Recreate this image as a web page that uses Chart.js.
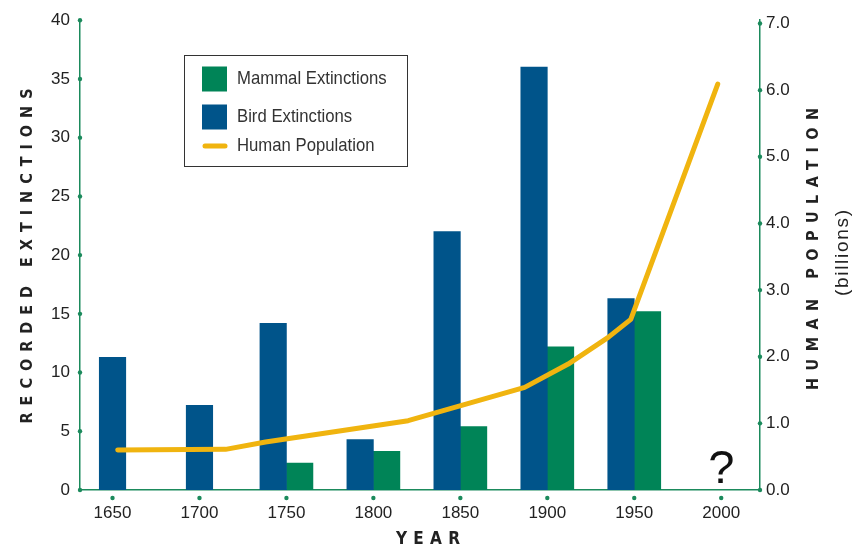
<!DOCTYPE html>
<html>
<head>
<meta charset="utf-8">
<script src="https://cdn.jsdelivr.net/npm/chart.js@4.4.1/dist/chart.umd.min.js"></script>
<style>
  html, body { margin: 0; padding: 0; background: #fff; }
  #wrap { width: 861px; height: 550px; }
</style>
</head>
<body>
<div id="wrap"><canvas id="chart" width="861" height="550"></canvas></div>
<script>
// values
const years = [1650, 1700, 1750, 1800, 1850, 1900, 1950, 2000];
const birdExtinctions = [11.3, 7.2, 14.2, 4.3, 22.0, 36.0, 16.3, null];
const mammalExtinctions = [null, null, 2.3, 3.3, 5.4, 12.2, 15.2, null];
const popYears = [1653, 1715, 1738, 1820, 1887, 1912, 1935, 1948, 1998];
const population = [0.60, 0.61, 0.72, 1.04, 1.54, 1.89, 2.29, 2.56, 6.09];
const extinctionTicks = [0, 5, 10, 15, 20, 25, 30, 35, 40];
const populationTicks = [0, 1, 2, 3, 4, 5, 6, 7];

const GREEN = '#008457';
const BLUE = '#00548a';
const GOLD = '#f0b40f';
const AXIS = '#1b8a5c';
const TEXT = '#222';
const SANS = "'Liberation Sans', Arial, sans-serif";
const COND = "'DejaVu Sans Condensed', 'Liberation Sans', sans-serif";

// spread the letters of a title over a given length
function spacedText(ctx, text, x, y, rot, font, length) {
    ctx.save();
    ctx.translate(x, y);
    ctx.rotate(rot);
    ctx.font = font;
    ctx.letterSpacing = '0px';
    const w0 = ctx.measureText(text).width;
    const ls = Math.max(0, (length - w0) / (text.length - 1));
    ctx.letterSpacing = ls + 'px';
    ctx.textAlign = 'left';
    ctx.textBaseline = 'middle';
    ctx.fillStyle = TEXT;
    ctx.fillText(text, -length / 2, 0);
    ctx.restore();
}

const decorations = {
    id: 'decorations',
    afterDraw: (chart) => {
        const { ctx, chartArea, scales } = chart;
        ctx.save();

        // tick dots on the axes
        ctx.fillStyle = AXIS;
        const dot = (x, y) => { ctx.beginPath(); ctx.arc(x, y, 2.2, 0, Math.PI * 2); ctx.fill(); };
        scales.y.ticks.forEach(t => dot(chartArea.left, scales.y.getPixelForValue(t.value)));
        scales.y2.ticks.forEach(t => dot(chartArea.right, scales.y2.getPixelForValue(t.value)));
        scales.x.ticks.forEach(t => dot(scales.x.getPixelForValue(t.value), chartArea.bottom + 8));

        // question mark over 2000
        ctx.fillStyle = '#111';
        ctx.font = "47px " + SANS;
        ctx.textAlign = 'center';
        ctx.textBaseline = 'alphabetic';
        ctx.fillText('?', scales.x.getPixelForValue(2000), chartArea.bottom - 7);

        // axis titles
        spacedText(ctx, 'RECORDED EXTINCTIONS', 28, 256, -Math.PI / 2, "bold 16px " + COND, 335);
        spacedText(ctx, 'HUMAN POPULATION', 814, 249, -Math.PI / 2, "bold 16px " + COND, 282);
        spacedText(ctx, '(billions)', 843, 253, -Math.PI / 2, "19px " + SANS, 86);
        spacedText(ctx, 'YEAR', 428, 540, 0, "bold 17px " + COND, 64);

        // legend box
        ctx.strokeStyle = '#333';
        ctx.lineWidth = 1;
        ctx.strokeRect(184.5, 55.5, 223, 111);
        const ds = chart.data.datasets;
        const items = [ds[1], ds[0], ds[2]];
        const rows = [79, 117, 146];
        items.forEach((d, i) => {
            const cy = rows[i];
            if (d.type === 'line') {
                ctx.strokeStyle = d.borderColor;
                ctx.lineWidth = 5;
                ctx.lineCap = 'round';
                ctx.beginPath();
                ctx.moveTo(205, cy);
                ctx.lineTo(225, cy);
                ctx.stroke();
            } else {
                ctx.fillStyle = d.backgroundColor;
                ctx.fillRect(202, cy - 12.5, 25, 25);
            }
            // condensed look: squeeze the label a little
            ctx.save();
            ctx.translate(237, cy);
            ctx.scale(0.88, 1);
            ctx.font = "19px " + SANS;
            ctx.textAlign = 'left';
            ctx.textBaseline = 'middle';
            ctx.fillStyle = '#333';
            ctx.fillText(d.label, 0, 0);
            ctx.restore();
        });
        ctx.restore();
    }
};

new Chart(document.getElementById('chart'), {
    type: 'bar',
    data: {
        labels: years,
        datasets: [
            {
                label: 'Bird Extinctions',
                data: birdExtinctions,
                backgroundColor: BLUE,
                yAxisID: 'y',
                order: 1
            },
            {
                label: 'Mammal Extinctions',
                data: mammalExtinctions,
                backgroundColor: GREEN,
                yAxisID: 'y',
                order: 1
            },
            {
                type: 'line',
                label: 'Human Population',
                data: popYears.map((x, i) => ({ x: x, y: population[i] })),
                borderColor: GOLD,
                borderWidth: 5,
                borderCapStyle: 'round',
                borderJoinStyle: 'round',
                pointRadius: 0,
                tension: 0,
                yAxisID: 'y2',
                order: 0
            }
        ]
    },
    options: {
        responsive: false,
        devicePixelRatio: 1,
        animation: false,
        skipNull: true,
        barThickness: 26.5,
        layout: { padding: { top: 13, left: 0, right: 0, bottom: 0 } },
        plugins: {
            legend: { display: false },
            tooltip: { enabled: false }
        },
        scales: {
            x: {
                type: 'linear',
                offset: false,
                min: 1631.3,
                max: 2022.3,
                afterBuildTicks: s => { s.ticks = years.map(v => ({ value: v })); },
                afterFit: s => { s.height = 60; },
                grid: { display: false, drawTicks: false },
                border: { color: AXIS, width: 1.5 },
                ticks: {
                    padding: 13,
                    color: TEXT,
                    font: { family: SANS, size: 17 },
                    callback: v => String(v)
                }
            },
            y: {
                position: 'left',
                min: 0,
                max: 40,
                afterBuildTicks: s => { s.ticks = extinctionTicks.map(v => ({ value: v })); },
                afterFit: s => { s.width = 80; },
                grid: { display: false, drawTicks: false },
                border: { color: AXIS, width: 1.5 },
                ticks: {
                    padding: 10,
                    color: TEXT,
                    font: { family: SANS, size: 17 }
                }
            },
            y2: {
                position: 'right',
                min: 0,
                max: 7.05,
                afterBuildTicks: s => { s.ticks = populationTicks.map(v => ({ value: v })); },
                afterFit: s => { s.width = 101; },
                grid: { display: false, drawTicks: false },
                border: { color: AXIS, width: 1.5 },
                ticks: {
                    padding: 6,
                    color: TEXT,
                    font: { family: SANS, size: 17 },
                    callback: v => v.toFixed(1)
                }
            }
        }
    },
    plugins: [decorations]
});
</script>
</body>
</html>
